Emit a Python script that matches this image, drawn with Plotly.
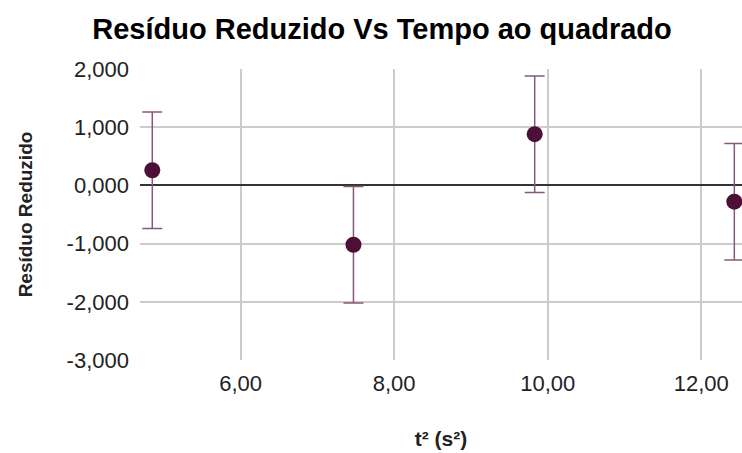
import plotly.graph_objects as go

# t² values (s²) and reduced residuals with their uncertainties
t_squared = [4.85, 7.47, 9.83, 12.43]
residuo = [0.26, -1.02, 0.88, -0.28]
incerteza = [1.0, 1.0, 1.0, 1.0]

x_ticks = [6, 8, 10, 12]
x_tick_labels = ["6,00", "8,00", "10,00", "12,00"]
y_ticks = [-3, -2, -1, 0, 1, 2]
y_tick_labels = ["-3,000", "-2,000", "-1,000", "0,000", "1,000", "2,000"]

font_family = "Liberation Sans, Arial, sans-serif"

fig = go.Figure()
fig.add_trace(go.Scatter(
    x=t_squared,
    y=residuo,
    mode="markers",
    marker=dict(size=16, color="#4d0f35"),
    error_y=dict(type="data", array=incerteza, visible=True,
                 color="#85597a", thickness=1.5, width=10),
    showlegend=False,
    cliponaxis=False,
))

fig.update_layout(
    width=742,
    height=453,
    margin=dict(l=140, r=0, t=69, b=93),
    paper_bgcolor="white",
    plot_bgcolor="white",
    font=dict(family=font_family, size=22, color="#222222"),
    title=dict(
        text="<b>Resíduo Reduzido Vs Tempo ao quadrado</b>",
        x=382 / 742, xref="container", xanchor="center",
        y=1 - 29 / 453, yanchor="middle",
        font=dict(size=29, color="#000000", family=font_family),
    ),
    xaxis=dict(
        range=[4.69, 12.53],
        tickvals=x_ticks,
        ticktext=x_tick_labels,
        showgrid=True,
        gridcolor="#cccccc",
        gridwidth=1.5,
        zeroline=False,
        showline=False,
        ticks="",
        ticklabelstandoff=8,
        title=dict(text="<b>t² (s²)</b>", font=dict(size=21, color="#222222"),
                   standoff=36),
    ),
    yaxis=dict(
        range=[-3, 2],
        tickvals=y_ticks,
        ticktext=y_tick_labels,
        showgrid=True,
        gridcolor="#cccccc",
        gridwidth=1.5,
        zeroline=True,
        zerolinecolor="#333333",
        zerolinewidth=1.5,
        showline=False,
        ticks="",
        ticklabelstandoff=10,
        title=dict(text="<b>Resíduo Reduzido</b>", font=dict(size=19, color="#222222"),
                   standoff=28),
    ),
)

fig.write_html("out.html")
